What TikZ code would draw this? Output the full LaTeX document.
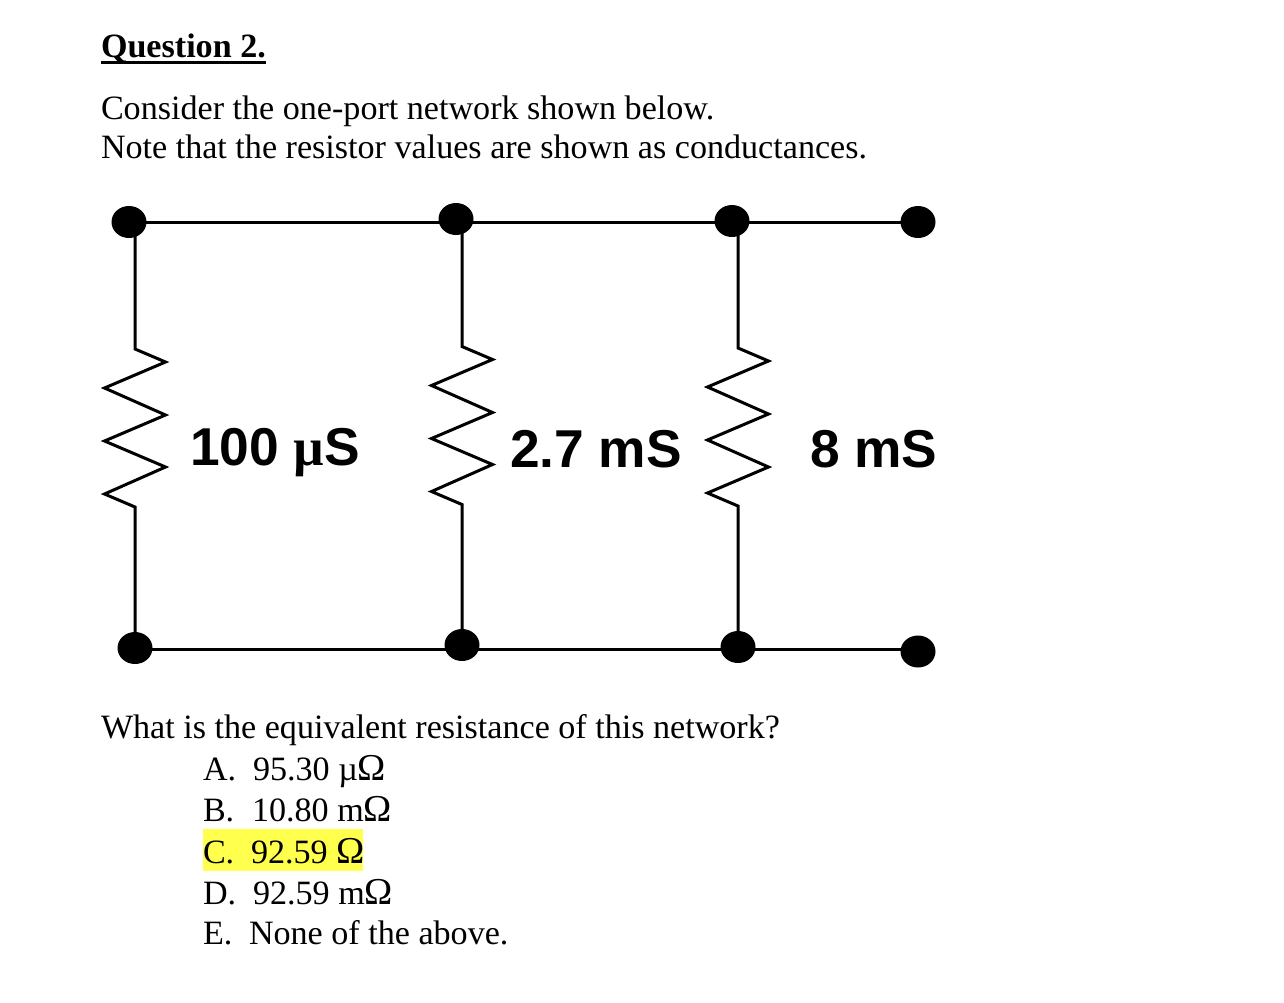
\documentclass[tikz,border=0pt]{standalone}
\usepackage{fontspec}
\setmainfont{Liberation Serif}
\newfontfamily\labfont{Liberation Sans}[Scale=1]
\newcommand{\bodysize}{\fontsize{34.1}{38}\selectfont}
\newcommand{\labsize}{\fontsize{53.3}{56}\selectfont}
\newcommand{\ohm}{{\fontsize{38}{38}\selectfont Ω}}
\definecolor{hilite}{HTML}{FFFF4D}
\tikzset{
  term/.style={shape=ellipse,fill=black,draw=none,minimum width=35pt,minimum height=32pt,inner sep=0pt},
  wire/.style={line width=3pt,black,line join=miter,miter limit=10},
  txt/.style={anchor=base west,inner sep=0pt,outer sep=0pt,font=\bodysize},
  lab/.style={anchor=base west,inner sep=0pt,outer sep=0pt,font=\labsize\labfont\bfseries},
}
\usetikzlibrary{shapes.geometric}
\begin{document}
\begin{tikzpicture}[x=1pt,y=-1pt]
\useasboundingbox (0,0) rectangle (1284,1002);
% junctions on the wires
\coordinate (wt1) at (135,222.5);
\coordinate (wt2) at (462,222.5);
\coordinate (wt3) at (738,222.5);
\coordinate (wt4) at (918,222.5);
\coordinate (wb1) at (135,649);
\coordinate (wb2) at (462,649);
\coordinate (wb3) at (738,649);
\coordinate (wb4) at (918,649);
% wires
\draw[wire] (wt1) -- (wt2) -- (wt3) -- (wt4);
\draw[wire] (wb1) -- (wb2) -- (wb3) -- (wb4);
% resistors
\draw[wire] (wt1) -- (135,349) -- (165.5,362) -- (104.5,388) -- (165.5,415) -- (104.5,441) -- (165.5,467) -- (104.5,494) -- (135,507) -- (wb1);
\draw[wire] (wt2) -- (462,346.5) -- (492.5,359.5) -- (431.5,385.5) -- (492.5,412.5) -- (431.5,438.5) -- (492.5,464.5) -- (431.5,491.5) -- (462,504.5) -- (wb2);
\draw[wire] (wt3) -- (738,348) -- (768.5,361) -- (707.5,387) -- (768.5,414) -- (707.5,440) -- (768.5,467) -- (707.5,493) -- (738,506) -- (wb3);
% terminals
\node[term] (t1) at (129,222) {};
\node[term] (t2) at (456,219) {};
\node[term] (t3) at (732,221) {};
\node[term] (t4) at (918,222) {};
\node[term] (b1) at (135,648) {};
\node[term] (b2) at (462,645) {};
\node[term] (b3) at (738,647) {};
\begin{scope}
\clip (890,620) rectangle (950,667);
\node[term] (b4) at (918,651.5) {};
\end{scope}
% labels
\node[lab] (l1) at (190,465) {100 {\fontspec{Liberation Serif}µ}S};
\node[lab] (l2) at (510,467) {2.7 mS};
\node[lab] (l3) at (810,467) {8 mS};
% text
\node[txt,font=\bodysize\bfseries] (q) at (101,57) {Question 2.};
\draw[line width=3pt] (q.base west) ++(0,5) -- ++(165,0);
\node[txt] (p1) at (101,119) {Consider the one-port network shown below.};
\node[txt] (p2) at (101,158) {Note that the resistor values are shown as conductances.};
\node[txt] (p3) at (101,738) {What is the equivalent resistance of this network?};
\fill[hilite] (203,829) rectangle (363,871);
\node[txt] (a) at (203,780) {A.};
\node[txt] (at) at (253,780) {95.30 µ\ohm};
\node[txt] (b) at (203,821) {B.};
\node[txt] (bt) at (252,821) {10.80 m\ohm};
\node[txt] (c) at (203,863) {C.};
\node[txt] (ct) at (251,863) {92.59 \ohm};
\node[txt] (d) at (203,904) {D.};
\node[txt] (dt) at (253,904) {92.59 m\ohm};
\node[txt] (e) at (203,944) {E.};
\node[txt] (et) at (249,944) {None of the above.};
\end{tikzpicture}
\end{document}
